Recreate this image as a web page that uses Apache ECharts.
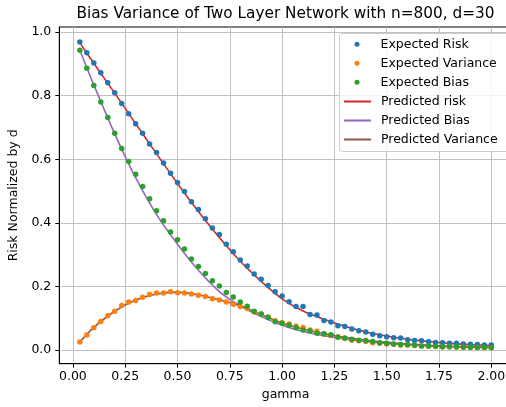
<!DOCTYPE html>
<html>
<head>
<meta charset="utf-8">
<script src="https://cdn.jsdelivr.net/npm/echarts@6/dist/echarts.min.js"></script>
<style>html,body{margin:0;padding:0;background:#fff;}#c{width:506px;height:407px;}</style>
</head>
<body>
<div id="c"></div>
<script>
// gamma values of the simulated points
const gamma = [0.0333,0.0667,0.1,0.1333,0.1667,0.2,0.2333,0.2667,0.3,0.3333,
  0.3667,0.4,0.4333,0.4667,0.5,0.5333,0.5667,0.6,0.6333,0.6667,
  0.7,0.7333,0.7667,0.8,0.8333,0.8667,0.9,0.9333,0.9667,1.0,
  1.0333,1.0667,1.1,1.1333,1.1667,1.2,1.2333,1.2667,1.3,1.3333,
  1.3667,1.4,1.4333,1.4667,1.5,1.5333,1.5667,1.6,1.6333,1.6667,
  1.7,1.7333,1.7667,1.8,1.8333,1.8667,1.9,1.9333,1.9667,2.0];
const expectedRisk = [0.969,0.935,0.903,0.872,0.841,0.809,0.775,0.743,0.712,0.682,
  0.648,0.621,0.588,0.556,0.527,0.499,0.466,0.442,0.413,0.384,
  0.363,0.333,0.309,0.283,0.264,0.239,0.223,0.203,0.183,0.170,
  0.152,0.137,0.137,0.112,0.110,0.093,0.088,0.076,0.074,0.066,
  0.061,0.057,0.050,0.045,0.042,0.039,0.038,0.032,0.030,0.029,
  0.026,0.024,0.023,0.021,0.021,0.019,0.018,0.017,0.016,0.016];
const expectedVariance = [0.025,0.047,0.070,0.090,0.108,0.122,0.140,0.151,0.156,0.166,
  0.175,0.179,0.179,0.183,0.180,0.179,0.176,0.172,0.168,0.161,
  0.157,0.151,0.144,0.137,0.131,0.120,0.113,0.104,0.092,0.086,
  0.082,0.075,0.071,0.063,0.059,0.050,0.046,0.042,0.036,0.031,
  0.029,0.027,0.023,0.021,0.019,0.018,0.016,0.015,0.014,0.013,
  0.012,0.011,0.010,0.010,0.009,0.009,0.008,0.008,0.008,0.007];
const expectedBias = [0.943,0.886,0.832,0.780,0.731,0.682,0.634,0.593,0.553,0.514,
  0.476,0.438,0.407,0.371,0.347,0.318,0.286,0.263,0.241,0.218,
  0.201,0.181,0.167,0.151,0.138,0.122,0.113,0.102,0.089,0.084,
  0.078,0.070,0.063,0.060,0.053,0.051,0.048,0.040,0.038,0.034,
  0.031,0.030,0.027,0.023,0.021,0.019,0.017,0.017,0.015,0.013,
  0.013,0.012,0.010,0.010,0.010,0.009,0.009,0.008,0.008,0.008];
// gamma values of the predicted curves
const gammaLine = [0.0333,0.1,0.2,0.3,0.4,0.5,0.6,0.7,0.8,0.9,1.0,
  1.1,1.2,1.3,1.4,1.5,1.6,1.7,1.8,1.9,2.0];
const predictedRisk = [0.966,0.902,0.808,0.712,0.617,0.524,0.436,0.354,0.279,0.216,0.161,
  0.123,0.097,0.075,0.057,0.044,0.034,0.027,0.021,0.017,0.014];
const predictedBias = [0.943,0.834,0.680,0.542,0.426,0.333,0.251,0.184,0.139,0.105,0.078,
  0.058,0.045,0.035,0.027,0.021,0.017,0.013,0.011,0.009,0.008];
const predictedVariance = [0.025,0.071,0.122,0.157,0.176,0.182,0.173,0.158,0.139,0.112,0.084,
  0.066,0.051,0.040,0.031,0.024,0.019,0.015,0.012,0.010,0.008];
const xTicks = [0,0.25,0.5,0.75,1.0,1.25,1.5,1.75,2.0];
const yTicks = [0,0.2,0.4,0.6,0.8,1.0];
const titleText = 'Bias Variance of Two Layer Network with n=800, d=30';

const FONT = 'DejaVu Sans';
const FS = 12.5;
const pair = (xs, ys) => xs.map((x, i) => [x, ys[i]]);

const chart = echarts.init(document.getElementById('c'), null, {renderer: 'canvas'});
const scatter = (name, ys, color) => ({
  name, type: 'scatter', data: pair(gamma, ys), symbolSize: 5.5,
  itemStyle: {color: color, opacity: 1}, emphasis: {disabled: true}, z: 2
});
const line = (name, ys, color) => ({
  name, type: 'line', data: pair(gammaLine, ys), smooth: 0.3, showSymbol: false, symbol: 'none',
  lineStyle: {color: color, width: 1.6}, itemStyle: {color: color}, emphasis: {disabled: true}, z: 2
});
const legendBase = {
  orient: 'vertical', padding: 0, itemWidth: 27, itemGap: 5,
  selectedMode: false,
  textStyle: {fontFamily: FONT, fontSize: FS, color: '#000', lineHeight: 14, padding: [0, 0, 0, 5]}
};
chart.setOption({
  animation: false,
  backgroundColor: '#fff',
  title: {
    text: titleText, left: 285.5, top: 6.5, textAlign: 'center', padding: 0,
    textStyle: {fontFamily: FONT, fontSize: 15.3, fontWeight: 'normal', color: '#000'}
  },
  grid: {left: 59.3, top: 27, width: 452.5, height: 336.7, show: true,
    outerBoundsMode: 'none', containLabel: false,
    borderColor: '#000', borderWidth: 1, backgroundColor: 'transparent'},
  xAxis: {
    type: 'value', min: -0.065, max: 2.098,
    name: 'gamma', nameLocation: 'middle', nameGap: 24,
    nameTextStyle: {fontFamily: FONT, fontSize: FS, color: '#000'},
    axisLine: {show: true, onZero: false, lineStyle: {color: '#000', width: 1}},
    axisTick: {show: true, length: 4, customValues: xTicks, lineStyle: {color: '#000'}},
    axisLabel: {customValues: xTicks, margin: 7, fontFamily: FONT, fontSize: FS, color: '#000',
      formatter: v => v.toFixed(2)},
    splitLine: {show: true, lineStyle: {color: '#c0c0c0', width: 1}}
  },
  yAxis: {
    type: 'value', min: -0.043, max: 1.016,
    name: 'Risk Normalized by d', nameLocation: 'middle', nameGap: 31, nameRotate: 90,
    nameTextStyle: {fontFamily: FONT, fontSize: FS, color: '#000'},
    axisLine: {show: true, onZero: false, lineStyle: {color: '#000', width: 1}},
    axisTick: {show: true, length: 4, customValues: yTicks, lineStyle: {color: '#000'}},
    axisLabel: {customValues: yTicks, margin: 8, fontFamily: FONT, fontSize: FS, color: '#000',
      formatter: v => v.toFixed(1)},
    splitLine: {show: true, lineStyle: {color: '#c0c0c0', width: 1}}
  },
  legend: [
    Object.assign({}, legendBase, {left: 354.5, top: 37.3, itemHeight: 5,
      data: [{name: 'Expected Risk', icon: 'circle'}, {name: 'Expected Variance', icon: 'circle'}, {name: 'Expected Bias', icon: 'circle'}]}),
    Object.assign({}, legendBase, {left: 344, top: 94.5, itemHeight: 2,
      data: [{name: 'Predicted risk', icon: 'rect'}, {name: 'Predicted Bias', icon: 'rect'}, {name: 'Predicted Variance', icon: 'rect'}]})
  ],
  graphic: [{
    type: 'rect', z: 3, silent: true,
    shape: {x: 339.5, y: 33.5, width: 170, height: 118, r: 3},
    style: {fill: 'rgba(255,255,255,0.8)', stroke: '#cccccc', lineWidth: 1}
  }],
  series: [
    scatter('Expected Risk', expectedRisk, '#1f77b4'),
    scatter('Expected Variance', expectedVariance, '#ff7f0e'),
    scatter('Expected Bias', expectedBias, '#2ca02c'),
    line('Predicted risk', predictedRisk, '#d62728'),
    line('Predicted Bias', predictedBias, '#9467bd'),
    line('Predicted Variance', predictedVariance, '#8c564b')
  ]
});
</script>
</body>
</html>
